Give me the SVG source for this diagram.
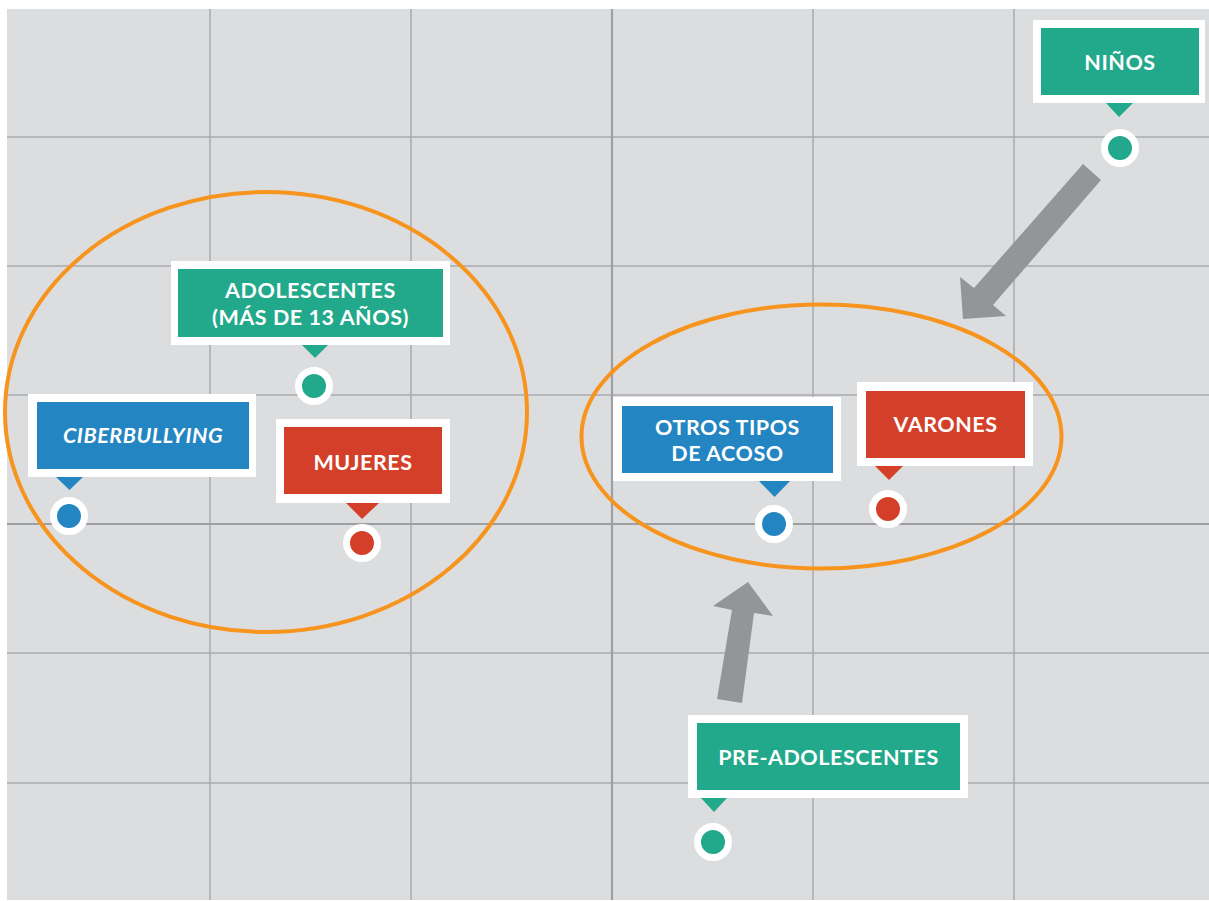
<svg xmlns="http://www.w3.org/2000/svg" width="1209" height="901" viewBox="0 0 1209 901">
<style>
.bg{fill:#dcdddf}
.grid{stroke:#a9abae;stroke-width:1.5;fill:none}
.axis{stroke:#9d9fa2;stroke-width:2.2;fill:none}
.ring{fill:none;stroke:#f7941d;stroke-width:4}
.arrow{fill:#939598}
.frame{fill:#ffffff}
.green{fill:#22a88a}
.blue{fill:#2485c3}
.red{fill:#d33f28}
.lbl{font-family:Lato,"Open Sans","Liberation Sans",sans-serif;font-weight:700;font-size:21.5px;letter-spacing:0.55px;fill:#ffffff;text-anchor:middle}
.it{font-style:italic}
.dot{stroke:#ffffff;stroke-width:7}
</style>
<rect class="bg" x="7" y="9" width="1202" height="891"/>
<g id="grid">
<path class="grid" d="M210 9V900M411 9V900M813 9V900M1014 9V900M7 137H1209M7 266H1209M7 395H1209M7 653H1209M7 783H1209"/>
<path class="axis" d="M612 9V900M7 524H1209"/>
</g>
<g id="groups">
<ellipse class="ring" cx="266" cy="412" rx="261" ry="220"/>
<ellipse class="ring" cx="821.5" cy="436.5" rx="240" ry="132"/>
</g>
<g id="connectors">
<polygon class="arrow" points="1083,164 1101,180 993,305 1006,316 963,319 960,277 974,288"/>
<polygon class="arrow" points="748,582 773,616 754,613 742,703 717,699 732,610 713,606"/>
</g>
<g id="ninos">
<rect class="frame" x="1033" y="20" width="172" height="83"/>
<rect class="green" x="1041" y="28" width="158" height="67"/>
<polygon class="green" points="1106,103 1133,103 1119,117"/>
<circle class="green dot" cx="1120" cy="148" r="15.5"/>
<text class="lbl" x="1120" y="70">NIÑOS</text>
</g>
<g id="adolescentes">
<rect class="frame" x="171" y="261" width="279" height="84"/>
<rect class="green" x="178" y="269" width="265" height="68"/>
<polygon class="green" points="302,345 328,345 315,358"/>
<circle class="green dot" cx="314" cy="386" r="15.5"/>
<text class="lbl" x="310.5" y="298">ADOLESCENTES<tspan x="310.5" dy="27">(MÁS DE 13 AÑOS)</tspan></text>
</g>
<g id="ciberbullying">
<rect class="frame" x="28" y="394" width="228" height="83"/>
<rect class="blue" x="37" y="402" width="212" height="67"/>
<polygon class="blue" points="56,477 83,477 69.5,490"/>
<circle class="blue dot" cx="69" cy="516" r="15.5"/>
<text class="lbl it" x="143" y="443">CIBERBULLYING</text>
</g>
<g id="mujeres">
<rect class="frame" x="276" y="419" width="174" height="84"/>
<rect class="red" x="284" y="427" width="158" height="67"/>
<polygon class="red" points="346,503 379,503 362,519"/>
<circle class="red dot" cx="362" cy="543" r="15.5"/>
<text class="lbl" x="363" y="470">MUJERES</text>
</g>
<g id="otros">
<rect class="frame" x="613" y="397" width="228" height="84"/>
<rect class="blue" x="622" y="406" width="211" height="67"/>
<polygon class="blue" points="759,481 790,481 774.5,497"/>
<circle class="blue dot" cx="774" cy="524" r="15.5"/>
<text class="lbl" x="727.5" y="435">OTROS TIPOS<tspan x="727.5" dy="26">DE ACOSO</tspan></text>
</g>
<g id="varones">
<rect class="frame" x="857" y="382" width="176" height="84"/>
<rect class="red" x="866" y="391" width="159" height="67"/>
<polygon class="red" points="875,466 903,466 889,480"/>
<circle class="red dot" cx="888" cy="509" r="15.5"/>
<text class="lbl" x="945.5" y="432">VARONES</text>
</g>
<g id="preadolescentes">
<rect class="frame" x="688" y="715" width="280" height="83"/>
<rect class="green" x="697" y="723" width="263" height="67"/>
<polygon class="green" points="701,798 727,798 714,812"/>
<circle class="green dot" cx="713" cy="842" r="15.5"/>
<text class="lbl" x="828.5" y="765">PRE-ADOLESCENTES</text>
</g>
</svg>
